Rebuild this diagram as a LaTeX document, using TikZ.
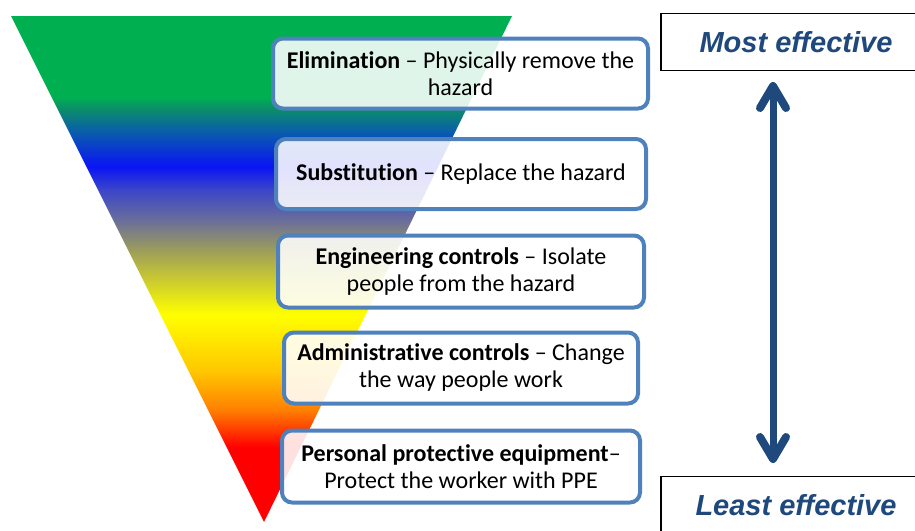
\documentclass[tikz,border=0pt]{standalone}
\usepackage{fontspec}
\setmainfont{Carlito}[Ligatures=NoCommon]
\newfontfamily\arialfont{Liberation Sans}
\usetikzlibrary{arrows.meta}

\definecolor{boxblue}{HTML}{4F81BD}
\definecolor{darkblue}{HTML}{1F497D}
% colours of the wedge, bottom to top
\definecolor{hRed}{HTML}{FF0000}
\definecolor{hOrange}{HTML}{FF8000}
\definecolor{hGold}{HTML}{FFC800}
\definecolor{hYellow}{HTML}{FFFF00}
\definecolor{hOlive}{HTML}{B4B446}
\definecolor{hKhaki}{HTML}{9C9C5C}
\definecolor{hGrey}{HTML}{6A6E9A}
\definecolor{hIndigo}{HTML}{3C46C8}
\definecolor{hBlue}{HTML}{0A14F5}
\definecolor{hSea}{HTML}{0A5AB0}
\definecolor{hTeal}{HTML}{0B8A6E}
\definecolor{hGreen}{HTML}{00B050}
\pgfdeclareverticalshading{hazard}{100bp}{color(0bp)=(hRed); color(32.4bp)=(hRed);
  color(36.1bp)=(hOrange); color(40bp)=(hGold); color(45.5bp)=(hYellow);
  color(50.4bp)=(hOlive); color(51.9bp)=(hKhaki); color(54.8bp)=(hGrey);
  color(57.8bp)=(hIndigo); color(60.1bp)=(hBlue); color(63.4bp)=(hSea);
  color(65.7bp)=(hTeal); color(67bp)=(hGreen); color(100bp)=(hGreen)}

\begin{document}
\begin{tikzpicture}[x=1pt, y=-1pt,
  ctrl/.style={draw=boxblue, line width=4pt, rounded corners=10pt, fill=white,
    fill opacity=0.88, text opacity=1, align=center, inner sep=0pt,
    minimum height=70pt, font=\fontsize{24}{27}\selectfont},
  rank/.style={draw=black, line width=1.5pt, fill=white, minimum width=270pt,
    minimum height=57pt, text=darkblue,
    font=\arialfont\bfseries\itshape\fontsize{29}{34}\selectfont},
  twoway/.style={draw=darkblue, line width=7pt,
    >={Straight Barb[length=22pt,width=26pt,line width=8pt,round]}, <->}]
\useasboundingbox (0,0) rectangle (915,530);

% the wedge
\shade[shading=hazard] (11,16) -- (512,16) -- (264,522) -- cycle;

% the five controls
\node[ctrl, minimum width=375pt] (elim) at (460.5,73.5)
  {\textbf{Elimination} – Physically remove the\\hazard};
\node[ctrl, minimum width=370pt] (subst) at (461,174)
  {\textbf{Substitution} – Replace the hazard};
\node[ctrl, minimum width=366pt, minimum height=72pt] (eng) at (461,271.5)
  {\textbf{Engineering controls} – Isolate\\people from the hazard};
\node[ctrl, minimum width=354pt, minimum height=71pt] (admin) at (461,368)
  {\textbf{Administrative controls} – Change\\the way people work};
\node[ctrl, minimum width=358pt, minimum height=72pt] (ppe) at (461,466.5)
  {\textbf{Personal protective equipment}–\\Protect the worker with PPE};

% most / least
\node[rank] (most) at (796,42) {Most effective};
\node[rank] (least) at (796,505) {Least effective};
\coordinate (up) at (773,82);
\coordinate (down) at (773,463);
\draw[twoway] (up) -- (down);
\end{tikzpicture}
\end{document}
